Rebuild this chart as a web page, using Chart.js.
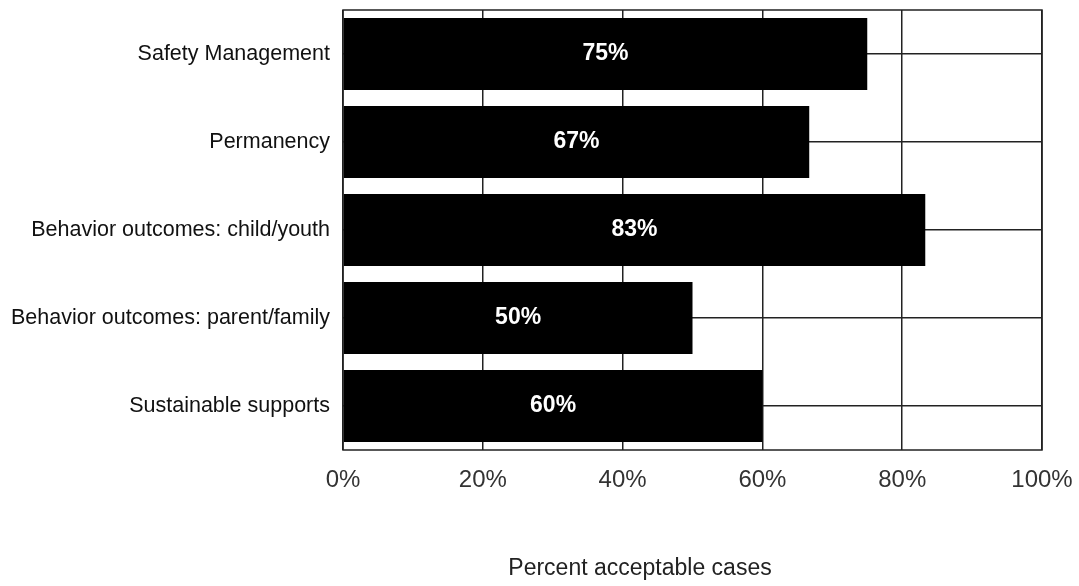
<!DOCTYPE html>
<html>
<head>
<meta charset="utf-8">
<script src="https://cdn.jsdelivr.net/npm/chart.js@4"></script>
<style>
  html, body { margin: 0; padding: 0; background: #fff; }
  #wrap { width: 1079px; height: 586px; }
</style>
</head>
<body>
<div id="wrap"><canvas id="chart" width="1079" height="586"></canvas></div>
<script>
// data
const categories = [
    "Safety Management",
    "Permanency",
    "Behavior outcomes: child/youth",
    "Behavior outcomes: parent/family",
    "Sustainable supports"
];
const percentValues = [75, 66.7, 83.3, 50, 60];
const barLabels = ["75%", "67%", "83%", "50%", "60%"];
const xTicks = [0, 20, 40, 60, 80, 100];
const axisTitle = "Percent acceptable cases";

// white value labels in the middle of each bar
const barLabelPlugin = {
    id: "barLabels",
    afterDatasetsDraw(chart) {
        const ctx = chart.ctx;
        const meta = chart.getDatasetMeta(0);
        ctx.save();
        ctx.fillStyle = "#fff";
        ctx.font = "bold 23px 'Liberation Sans Narrow', 'Liberation Sans', Arial, sans-serif";
        ctx.textAlign = "center";
        ctx.textBaseline = "middle";
        meta.data.forEach((bar, i) => {
            const cx = (bar.base + bar.x) / 2;
            ctx.fillText(barLabels[i], cx, bar.y);
        });
        ctx.restore();
    }
};

// box around the plot + axis title
const frameAndTitle = {
    id: "frameAndTitle",
    afterDraw(chart) {
        const ctx = chart.ctx;
        const a = chart.chartArea;
        ctx.save();
        ctx.strokeStyle = "#222";
        ctx.lineWidth = 1.5;
        ctx.strokeRect(a.left, a.top, a.right - a.left, a.bottom - a.top);
        ctx.fillStyle = "#222";
        ctx.font = "23px 'Liberation Sans', Arial, sans-serif";
        ctx.textAlign = "center";
        ctx.textBaseline = "middle";
        ctx.fillText(axisTitle, 640, 569);
        ctx.restore();
    }
};

new Chart(document.getElementById("chart"), {
    type: "bar",
    data: {
        labels: categories,
        datasets: [{
            data: percentValues,
            backgroundColor: "#000",
            borderWidth: 0,
            barPercentage: 0.82,
            categoryPercentage: 1
        }]
    },
    options: {
        indexAxis: "y",
        responsive: false,
        animation: false,
        layout: { padding: { top: 10, right: 37, left: 0, bottom: 0 } },
        plugins: {
            legend: { display: false },
            tooltip: { enabled: false }
        },
        scales: {
            x: {
                min: 0,
                max: 100,
                afterBuildTicks(scale) {
                    scale.ticks = xTicks.map(v => ({ value: v }));
                },
                afterFit(scale) {
                    scale.height = 136;
                    scale.paddingLeft = 0;
                    scale.paddingRight = 0;
                },
                grid: { color: "#222", lineWidth: 1.5, drawTicks: false },
                border: { display: false },
                ticks: {
                    padding: 16,
                    color: "#333",
                    font: { family: "'Liberation Sans', Arial, sans-serif", size: 24 },
                    callback: v => v + "%"
                }
            },
            y: {
                afterFit(scale) {
                    scale.width = 343;
                    scale.paddingTop = 0;
                    scale.paddingBottom = 0;
                },
                grid: { color: "#222", lineWidth: 1.5, drawTicks: false, offset: false },
                border: { display: false },
                ticks: {
                    padding: 13,
                    color: "#111",
                    font: { family: "'Liberation Sans', Arial, sans-serif", size: 21.5 }
                }
            }
        }
    },
    plugins: [barLabelPlugin, frameAndTitle]
});
</script>
</body>
</html>
